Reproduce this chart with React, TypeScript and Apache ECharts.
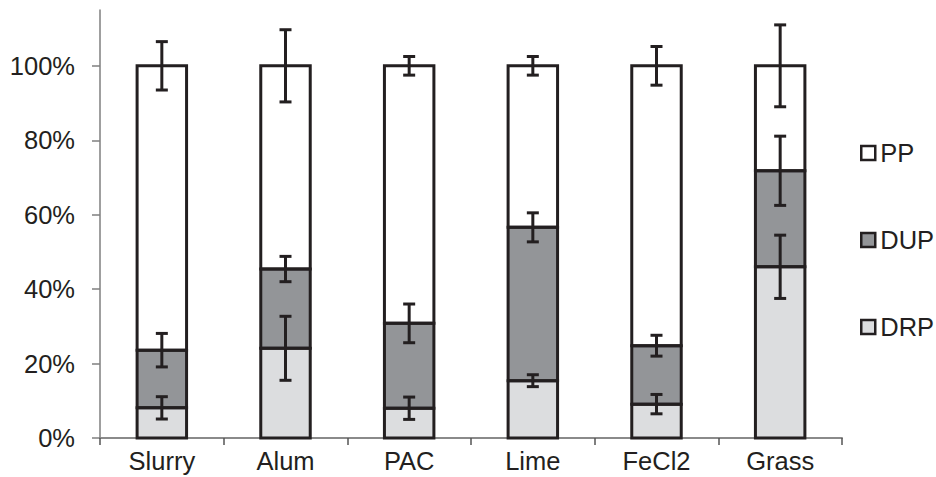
import React, { useEffect, useRef } from "react";
import * as echarts from "echarts";

const categories = ["Slurry", "Alum", "PAC", "Lime", "FeCl2", "Grass"];
const drp = [8.1, 24.1, 8.0, 15.4, 9.1, 46.0];
const dup = [15.5, 21.3, 22.8, 41.2, 15.7, 25.8];
const pp = [76.4, 54.6, 69.2, 43.4, 75.2, 28.2];
const drpErr = [3.0, 8.6, 3.0, 1.6, 2.6, 8.5];
const dupErr = [4.5, 3.4, 5.2, 3.9, 2.8, 9.3];
const ppErr = [6.5, 9.7, 2.5, 2.5, 5.2, 11.0];
const yTicks = [0, 20, 40, 60, 80, 100];

const TEXT = "#231f20";
const FONT = "'Liberation Sans', Arial, sans-serif";
const FS = 25.5;
const BAR_FRAC = 0.4;

export default function App() {
  const ref = useRef<HTMLDivElement>(null);
  useEffect(() => {
    if (!ref.current) return;
    const chart = echarts.init(ref.current, undefined, { renderer: "svg" });

    const errData: number[][] = [];
    const segData: number[][] = [];
    categories.forEach((_, i) => {
      const c1 = drp[i];
      const c2 = drp[i] + dup[i];
      const c3 = drp[i] + dup[i] + pp[i];
      errData.push([i, c1, drpErr[i]]);
      errData.push([i, c2, dupErr[i]]);
      errData.push([i, c3, ppErr[i]]);
      segData.push([i, 0, c1]);
      segData.push([i, c1, c2]);
      segData.push([i, c2, c3]);
    });

    const legendItem = (name: string, color: string) => ({
      name,
      icon: "rect",
      itemStyle: { color, borderColor: TEXT, borderWidth: 2.5 },
    });

    chart.setOption({
      animation: false,
      textStyle: { fontFamily: FONT },
      grid: { left: 100, right: 94, top: 10, bottom: 39, containLabel: false },
      legend: {
        data: [
          legendItem("PP", "#ffffff"),
          legendItem("DUP", "#939598"),
          legendItem("DRP", "#dcdddf"),
        ],
        orient: "vertical",
        left: 860,
        top: 140,
        padding: 0,
        itemWidth: 14,
        itemHeight: 14,
        itemGap: 61,
        textStyle: { fontSize: FS, color: TEXT, fontFamily: FONT, lineHeight: FS },
        selectedMode: false,
      },
      xAxis: {
        type: "category",
        data: categories,
        boundaryGap: true,
        axisLine: { lineStyle: { color: "#8a8a8a", width: 2 } },
        axisTick: { show: true, length: 7, lineStyle: { color: "#555", width: 1.5 } },
        axisLabel: { fontSize: FS, color: TEXT, margin: 10, fontFamily: FONT },
      },
      yAxis: {
        type: "value",
        min: 0,
        max: 115,
        interval: 20,
        splitLine: { show: false },
        axisLine: { show: true, lineStyle: { color: "#7f7f7f", width: 1.5 } },
        axisTick: { show: true, length: 8, customValues: yTicks, lineStyle: { color: "#7f7f7f", width: 1.5 } },
        axisLabel: {
          fontSize: FS,
          color: TEXT,
          margin: 25,
          fontFamily: FONT,
          customValues: yTicks,
          formatter: (v: number) => `${v}%`,
        },
      },
      series: [
        { name: "DRP", type: "bar", stack: "t", data: drp, barWidth: "40%", itemStyle: { color: "#dcdddf" } },
        { name: "DUP", type: "bar", stack: "t", data: dup, barWidth: "40%", itemStyle: { color: "#939598" } },
        { name: "PP", type: "bar", stack: "t", data: pp, barWidth: "40%", itemStyle: { color: "#ffffff" } },
        {
          name: "outline",
          type: "custom",
          z: 5,
          data: segData,
          encode: { x: 0, y: [1, 2] },
          renderItem: (params: any, api: any) => {
            const x = api.value(0);
            const lo = api.coord([x, api.value(1)]);
            const hi = api.coord([x, api.value(2)]);
            const w = api.size([1, 0])[0] * BAR_FRAC;
            return {
              type: "rect",
              shape: { x: lo[0] - w / 2, y: hi[1], width: w, height: lo[1] - hi[1] },
              style: { fill: "none", stroke: TEXT, lineWidth: 3 },
            };
          },
        },
        {
          name: "err",
          type: "custom",
          z: 10,
          data: errData,
          encode: { x: 0, y: 1 },
          renderItem: (params: any, api: any) => {
            const x = api.value(0);
            const y = api.value(1);
            const e = api.value(2);
            const top = api.coord([x, y + e]);
            const bot = api.coord([x, y - e]);
            const hw = 6;
            const st = { stroke: TEXT, lineWidth: 3 };
            return {
              type: "group",
              children: [
                { type: "line", shape: { x1: top[0], y1: top[1], x2: bot[0], y2: bot[1] }, style: st },
                { type: "line", shape: { x1: top[0] - hw, y1: top[1], x2: top[0] + hw, y2: top[1] }, style: st },
                { type: "line", shape: { x1: bot[0] - hw, y1: bot[1], x2: bot[0] + hw, y2: bot[1] }, style: st },
              ],
            };
          },
        },
      ],
    });
    return () => chart.dispose();
  }, []);
  return <div ref={ref} style={{ position: "absolute", left: 0, top: 0, width: 936, height: 477 }} />;
}
